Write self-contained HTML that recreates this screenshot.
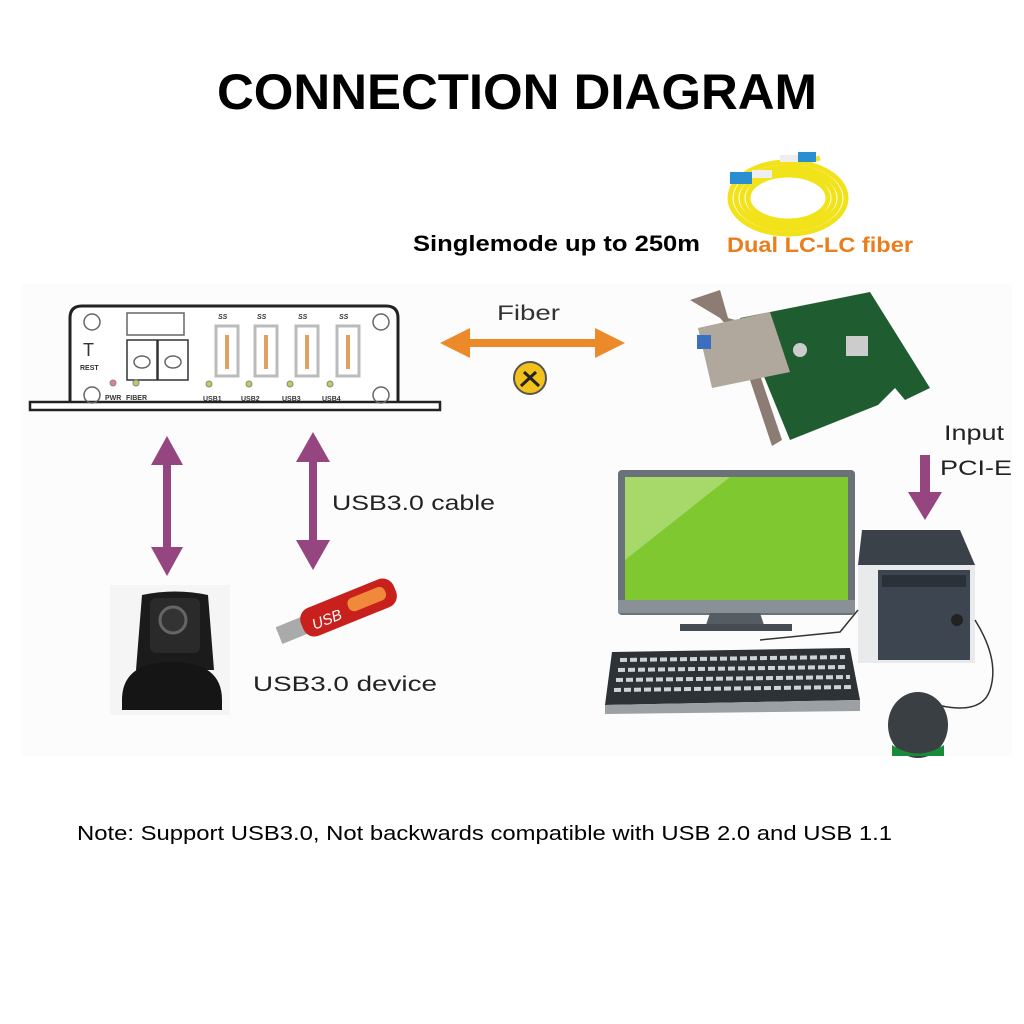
<!DOCTYPE html>
<html><head><meta charset="utf-8"><style>
html,body{margin:0;padding:0;background:#fff;}
svg{display:block;font-family:"Liberation Sans",sans-serif;}
</style></head><body>
<svg width="1024" height="1024" viewBox="0 0 1024 1024" xmlns="http://www.w3.org/2000/svg">
<rect width="1024" height="1024" fill="#fff"/>
<rect x="22" y="284" width="990" height="472" fill="#fcfcfc"/>
<text x="217" y="109" font-size="50" font-weight="bold" fill="#000" textLength="600" lengthAdjust="spacingAndGlyphs">CONNECTION DIAGRAM</text>
<text x="413" y="251" font-size="22" font-weight="bold" fill="#000" textLength="287" lengthAdjust="spacingAndGlyphs">Singlemode up to 250m</text>
<text x="727" y="252" font-size="21" font-weight="bold" fill="#e87e1c" textLength="186" lengthAdjust="spacingAndGlyphs">Dual LC-LC fiber</text>
<!-- fiber coil -->
<g fill="none" stroke="#f2e21a" stroke-width="5">
<ellipse cx="788" cy="198" rx="58" ry="36"/><ellipse cx="788" cy="198" rx="52" ry="31"/><ellipse cx="788" cy="198" rx="46" ry="27"/><ellipse cx="788" cy="198" rx="40" ry="23"/>
<path d="M760 174 L820 158"/>
</g>
<rect x="730" y="172" width="22" height="12" fill="#2a8fd0"/><rect x="752" y="170" width="20" height="8" fill="#eee"/>
<rect x="798" y="152" width="18" height="10" fill="#2a8fd0"/><rect x="780" y="155" width="18" height="7" fill="#eee"/>
<!-- device box -->
<path d="M70 403 L70 318 Q70 306 82 306 L386 306 Q398 306 398 318 L398 403" fill="#fff" stroke="#222" stroke-width="3"/>
<rect x="30" y="402" width="410" height="8" fill="#fff" stroke="#222" stroke-width="2.5"/>
<g fill="none" stroke="#666" stroke-width="1.5">
<circle cx="92" cy="322" r="8"/><circle cx="92" cy="395" r="8"/><circle cx="381" cy="322" r="8"/><circle cx="381" cy="395" r="8"/>
<rect x="127" y="313" width="57" height="22"/>
<rect x="127" y="340" width="30" height="40" stroke="#333"/><rect x="158" y="340" width="30" height="40" stroke="#333"/>
<ellipse cx="142" cy="362" rx="8" ry="6"/><ellipse cx="173" cy="362" rx="8" ry="6"/>
<rect x="216" y="326" width="22" height="50" stroke-width="3" stroke="#bbb"/><rect x="255" y="326" width="22" height="50" stroke-width="3" stroke="#bbb"/>
<rect x="296" y="326" width="22" height="50" stroke-width="3" stroke="#bbb"/><rect x="337" y="326" width="22" height="50" stroke-width="3" stroke="#bbb"/>
</g>
<g fill="#e0a060"><rect x="225" y="335" width="4" height="34"/><rect x="264" y="335" width="4" height="34"/><rect x="305" y="335" width="4" height="34"/><rect x="346" y="335" width="4" height="34"/></g>
<g font-size="7" font-weight="bold" fill="#333"><text x="80" y="370">REST</text><text x="105" y="400">PWR</text><text x="126" y="400">FIBER</text><text x="203" y="401">USB1</text><text x="241" y="401">USB2</text><text x="282" y="401">USB3</text><text x="322" y="401">USB4</text>
<text x="218" y="319" font-style="italic">SS</text><text x="257" y="319" font-style="italic">SS</text><text x="298" y="319" font-style="italic">SS</text><text x="339" y="319" font-style="italic">SS</text></g>
<text x="83" y="356" font-size="18" fill="#333">T</text>
<g fill="#b8d060" stroke="#888"><circle cx="113" cy="383" r="3" fill="#e08090"/><circle cx="136" cy="383" r="3"/><circle cx="209" cy="384" r="3"/><circle cx="249" cy="384" r="3"/><circle cx="290" cy="384" r="3"/><circle cx="330" cy="384" r="3"/></g>
<!-- fiber arrow -->
<text x="497" y="320" font-size="21" fill="#333" textLength="63" lengthAdjust="spacingAndGlyphs">Fiber</text>
<path d="M440 343 L470 328 L470 339 L595 339 L595 328 L625 343 L595 358 L595 347 L470 347 L470 358 Z" fill="#ec8a2a"/>
<circle cx="530" cy="378" r="16" fill="#f2c21a" stroke="#555" stroke-width="2"/>
<path d="M521 386 L536 372 M524 372 L539 386" stroke="#222" stroke-width="3"/>
<!-- purple arrows -->
<g fill="#95457f">
<path d="M167 436 L183 465 L171 465 L171 547 L183 547 L167 576 L151 547 L163 547 L163 465 L151 465 Z"/>
<path d="M313 432 L330 462 L317 462 L317 540 L330 540 L313 570 L296 540 L309 540 L309 462 L296 462 Z"/>
<path d="M920 455 L930 455 L930 492 L942 492 L925 520 L908 492 L920 492 Z"/>
</g>
<text x="332" y="510" font-size="21" fill="#222" textLength="163" lengthAdjust="spacingAndGlyphs">USB3.0 cable</text>
<text x="944" y="440" font-size="21" fill="#222" textLength="60" lengthAdjust="spacingAndGlyphs">Input</text>
<text x="940" y="475" font-size="21" fill="#222" textLength="72" lengthAdjust="spacingAndGlyphs">PCI-E</text>
<!-- camera -->
<rect x="110" y="585" width="120" height="130" fill="#f5f5f5"/>
<path d="M142 595 Q175 588 208 595 L214 670 L136 670 Z" fill="#1b1b1b"/>
<rect x="150" y="598" width="50" height="55" rx="6" fill="#2a2a2a"/>
<circle cx="173" cy="620" r="13" fill="#333" stroke="#666" stroke-width="3"/>
<path d="M122 700 Q122 662 172 662 Q222 662 222 700 L222 710 L122 710 Z" fill="#151515"/>
<!-- usb stick -->
<g transform="rotate(-22 330 615)">
<rect x="275" y="606" width="28" height="18" fill="#aaa"/>
<rect x="300" y="600" width="100" height="30" rx="12" fill="#c8201c"/>
<rect x="350" y="607" width="40" height="14" rx="6" fill="#f08a3a"/>
<text x="310" y="623" font-size="15" fill="#fff" font-style="italic">USB</text>
</g>
<text x="253" y="691" font-size="21" fill="#222" textLength="184" lengthAdjust="spacingAndGlyphs">USB3.0 device</text>
<!-- pcie card -->
<path d="M740 318 L870 292 L930 388 L905 400 L895 388 L878 405 L790 440 Z" fill="#1f5d30"/>
<path d="M690 300 L720 290 L728 318 L742 322 L782 440 L772 446 L735 335 L720 318 Z" fill="#8c7c74"/>
<path d="M698 328 L770 312 L790 372 L712 388 Z" fill="#b0a89c"/>
<rect x="697" y="335" width="14" height="14" fill="#3a6fc0"/>
<rect x="846" y="336" width="22" height="20" fill="#ccc"/>
<circle cx="800" cy="350" r="7" fill="#ccc"/>
<!-- monitor -->
<rect x="618" y="470" width="237" height="145" rx="4" fill="#6a7178"/>
<rect x="625" y="477" width="223" height="123" fill="#7fc830"/>
<path d="M625 477 L730 477 L625 560 Z" fill="#a6d86a"/>
<rect x="618" y="600" width="237" height="13" fill="#8a9196"/>
<path d="M710 613 L760 613 L764 625 L706 625 Z" fill="#555c62"/>
<rect x="680" y="624" width="112" height="7" fill="#454b50"/>
<!-- keyboard -->
<path d="M612 652 L850 648 L860 700 L605 705 Z" fill="#2d3236"/>
<path d="M605 705 L860 700 L860 711 L605 714 Z" fill="#9aa0a4"/>
<g stroke="#cfd3d6" stroke-width="4" stroke-dasharray="7 3">
<path d="M620 660 L845 657"/><path d="M618 670 L848 667"/><path d="M616 680 L850 677"/><path d="M614 690 L852 687"/></g>
<!-- tower -->
<path d="M862 530 L960 530 L975 565 L858 565 Z" fill="#3a4148"/>
<rect x="858" y="565" width="117" height="98" fill="#e8eaec"/>
<rect x="878" y="570" width="92" height="90" fill="#3d4650"/>
<rect x="882" y="575" width="84" height="12" fill="#2a3138"/>
<circle cx="957" cy="620" r="6" fill="#222"/>
<!-- cables -->
<path d="M760 640 L840 632 L858 610" fill="none" stroke="#333" stroke-width="1.5"/>
<path d="M975 620 Q1000 660 990 690 Q980 720 920 700" fill="none" stroke="#333" stroke-width="1.5"/>
<!-- mouse -->
<ellipse cx="918" cy="725" rx="30" ry="33" fill="#3a3f44"/>
<path d="M892 745 Q918 762 944 745 L944 756 L892 756 Z" fill="#1a8a3a"/>
<text x="77" y="840" font-size="20.5" fill="#000" textLength="815" lengthAdjust="spacingAndGlyphs">Note: Support USB3.0, Not backwards compatible with USB 2.0 and USB 1.1</text>
</svg>
</body></html>
